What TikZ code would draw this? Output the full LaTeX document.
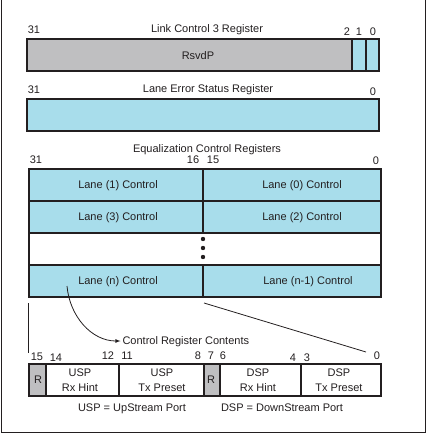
\documentclass[tikz,border=0pt]{standalone}
\usepackage{fontspec}
\setmainfont{Liberation Sans}
\definecolor{regblue}{RGB}{168,221,235}
\definecolor{rsvdgray}{RGB}{191,191,193}
\definecolor{inkgray}{RGB}{35,31,32}

\begin{document}
\begin{tikzpicture}[x=1pt, y=-1pt, line width=1.1pt, draw=inkgray,
	font=\fontsize{11}{13}\selectfont,
	txt/.style={inner sep=0pt, text=inkgray, text height=7.9pt, text depth=0pt},
	bitnum/.style={txt},
	field/.style={inner sep=0pt, text=inkgray, align=center, font=\fontsize{11}{15}\selectfont}]
	\useasboundingbox (0,0) rectangle (427,434);
	% frame
	\draw [line width=1pt] (1,0) -- (1,432) -- (425,432) -- (425,0);
	% Link Control 3 Register
	\draw [fill = rsvdgray] (27,39) rectangle (352,71);
	\draw [fill = regblue] (352,39) rectangle (366,71);
	\draw [fill = regblue] (366,39) rectangle (379,71);
	\node [txt] (lctitle) at (207,29) {Link Control 3 Register};
	\node [txt] (rsvdp) at (198,56) {RsvdP};
	\node [bitnum] (lcmsb) at (34,30) {31};
	\node [bitnum] (lctwo) at (347,32) {2};
	\node [bitnum] (lcone) at (359,32) {1};
	\node [bitnum] (lczero) at (373,32) {0};
	% Lane Error Status Register
	\draw [fill = regblue] (27,99) rectangle (379,131);
	\node [txt] (lestitle) at (208,89) {Lane Error Status Register};
	\node [bitnum] (lesmsb) at (34,90) {31};
	\node [bitnum] (leszero) at (373,92) {0};
	% Equalization Control Registers
	\node [txt] (ectitle) at (207,149) {Equalization Control Registers};
	\node [bitnum] (ecmsb) at (36,160) {31};
	\node [bitnum] (ecsixteen) at (193,160) {16};
	\node [bitnum] (ecfifteen) at (213,160) {15};
	\node [bitnum] (eczero) at (376,161) {0};
	\draw [fill = regblue] (29,169) rectangle (381,233);
	\draw [fill = white] (29,233) rectangle (381,265);
	\draw [fill = regblue] (29,265) rectangle (381,297);
	\draw (29,201) -- (381,201);
	\draw (203,169) -- (203,233);
	\draw (203,265) -- (203,297);
	\foreach \y in {239,248,257}{
		\fill [inkgray] (203,\y) circle (2.2pt);
	}
	\node [txt] (laneone) at (118,185) {Lane (1) Control};
	\node [txt] (lanezero) at (302,185) {Lane (0) Control};
	\node [txt] (lanethree) at (118,217) {Lane (3) Control};
	\node [txt] (lanetwo) at (302,217) {Lane (2) Control};
	\node [txt] (lanen) at (118,281) {Lane (n) Control};
	\node [txt] (lanenm) at (308,281) {Lane (n-1) Control};
	% zoom lines
	\coordinate (zoomleft) at (28,303);
	\coordinate (zoomleftend) at (28,353);
	\coordinate (zoomright) at (204,303);
	\coordinate (zoomrightend) at (366,352);
	\draw [line width=0.8pt] (zoomleft) -- (zoomleftend);
	\draw [line width=0.8pt] (zoomright) -- (zoomrightend);
	\coordinate (tap) at (67,286);
	\node [txt, anchor=west] (contents) at (122,341) {Control Register Contents};
	\draw [line width=0.8pt, -latex, shorten >=1.5pt] (tap) to[out=-85,in=180] (contents.west);
	% Control Register Contents
	\draw [fill = rsvdgray] (29,364) rectangle (46,396);
	\draw [fill = white] (46,364) rectangle (119,396);
	\draw [fill = white] (119,364) rectangle (204,396);
	\draw [fill = rsvdgray] (204,364) rectangle (220,396);
	\draw [fill = white] (220,364) rectangle (301,396);
	\draw [fill = white] (301,364) rectangle (381,396);
	\node [txt] (rone) at (38,380) {R};
	\node [field] (usprx) at (80,380) {USP\\Rx Hint};
	\node [field] (usptx) at (162,380) {USP\\Tx Preset};
	\node [txt] (rtwo) at (211,380) {R};
	\node [field] (dsprx) at (258,380) {DSP\\Rx Hint};
	\node [field] (dsptx) at (339,380) {DSP\\Tx Preset};
	\node [bitnum] at (37,357) {15};
	\node [bitnum] at (56,358) {14};
	\node [bitnum] at (108,356) {12};
	\node [bitnum] at (127,356) {11};
	\node [bitnum] at (198,356) {8};
	\node [bitnum] at (211,356) {7};
	\node [bitnum] at (223,356) {6};
	\node [bitnum] at (293,358) {4};
	\node [bitnum] at (307,358) {3};
	\node [bitnum] at (377,356) {0};
	\node [txt] (usplegend) at (132,408) {USP = UpStream Port};
	\node [txt] (dsplegend) at (282,408) {DSP = DownStream Port};
\end{tikzpicture}
\end{document}
